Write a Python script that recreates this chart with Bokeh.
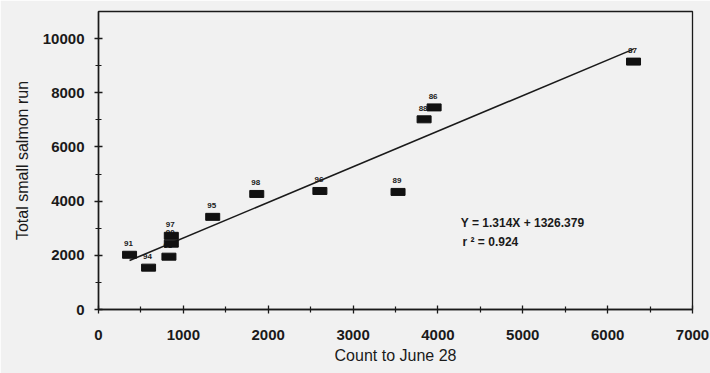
from bokeh.plotting import figure
from bokeh.models import ColumnDataSource, FixedTicker, Label, Range1d
from bokeh.core.properties import value
from bokeh.embed import file_html
from bokeh.resources import INLINE

# Annual counts to June 28 against the total small salmon run
years = ["91", "94", "93", "90", "97", "95", "98", "96", "89", "88", "86", "87"]
count_june28 = [366, 590, 830, 858, 858, 1346, 1865, 2609, 3530, 3837, 3955, 6305]
total_run = [2020, 1545, 1950, 2430, 2720, 3420, 4265, 4375, 4340, 7020, 7460, 9150]

# Least-squares fit reported on the chart
slope = 1.314
intercept = 1326.379
r_squared = 0.924

x_ticks = [0, 1000, 2000, 3000, 4000, 5000, 6000, 7000]
y_ticks = [0, 2000, 4000, 6000, 8000, 10000]

FONT = "Liberation Sans"
BG = "#f1f1f1"
INK = "#1a1a1a"

p = figure(width=710, height=373, output_backend="svg", toolbar_location=None,
           x_range=Range1d(0, 7000), y_range=Range1d(0, 11000),
           min_border_left=98, min_border_right=18, min_border_top=11,
           min_border_bottom=64)
p.background_fill_color = BG
p.border_fill_color = BG
p.outline_line_color = INK
p.outline_line_width = 1.3
p.xgrid.visible = False
p.ygrid.visible = False

src = ColumnDataSource(dict(x=count_june28, y=total_run, label=years))

# Regression line across the observed range of counts
x0, x1 = min(count_june28), max(count_june28)
p.line([x0, x1], [slope * x0 + intercept, slope * x1 + intercept],
       line_color=INK, line_width=1.6)

# Year labels sit just above each point (drawn first so markers cover overlaps)
p.text("x", "y", text="label", source=src, y_offset=-11, x_offset=-1,
       text_align="center", text_baseline="middle",
       text_font=value(FONT), text_font_size="8px", text_font_style="bold",
       text_color=INK)

p.rect("x", "y", width=14, height=7, width_units="screen", height_units="screen",
       source=src, fill_color="#111111", line_color="#111111")

for ax in (p.xaxis, p.yaxis):
    ax.axis_line_color = INK
    ax.axis_line_width = 1.5
    ax.major_tick_line_color = INK
    ax.major_tick_line_width = 1.3
    ax.minor_tick_line_color = INK
    ax.minor_tick_line_width = 1.2
    ax.major_tick_in = 4
    ax.major_tick_out = 4
    ax.minor_tick_in = 3
    ax.minor_tick_out = 3
    ax.major_label_text_font = FONT
    ax.major_label_text_font_size = "15px"
    ax.major_label_text_font_style = "bold"
    ax.major_label_text_color = INK
    ax.axis_label_text_font = FONT
    ax.axis_label_text_font_size = "16px"
    ax.axis_label_text_font_style = "normal"
    ax.axis_label_text_color = INK

p.xaxis.ticker = FixedTicker(ticks=x_ticks, minor_ticks=list(range(500, 7000, 1000)))
p.yaxis.ticker = FixedTicker(ticks=y_ticks, minor_ticks=list(range(1000, 11000, 2000)))
p.xaxis.major_label_overrides = {t: str(t) for t in x_ticks}
p.yaxis.major_label_overrides = {t: str(t) for t in y_ticks}
p.xaxis.major_label_standoff = 16
p.yaxis.major_label_standoff = 10
p.xaxis.axis_label = "Count to June 28"
p.yaxis.axis_label = "Total small salmon run"
p.xaxis.axis_label_standoff = 4
p.yaxis.axis_label_standoff = 9

eq_style = dict(x_units="data", y_units="data", text_font=FONT,
                text_font_size="12px", text_font_style="bold", text_color=INK,
                text_baseline="middle")
p.add_layout(Label(x=4270, y=3200,
                   text=f"Y = {slope}X + {intercept}", **eq_style))
p.add_layout(Label(x=4290, y=2480,
                   text=f"r ² = {r_squared}", **eq_style))

open("out.html", "w").write(file_html(p, INLINE))
